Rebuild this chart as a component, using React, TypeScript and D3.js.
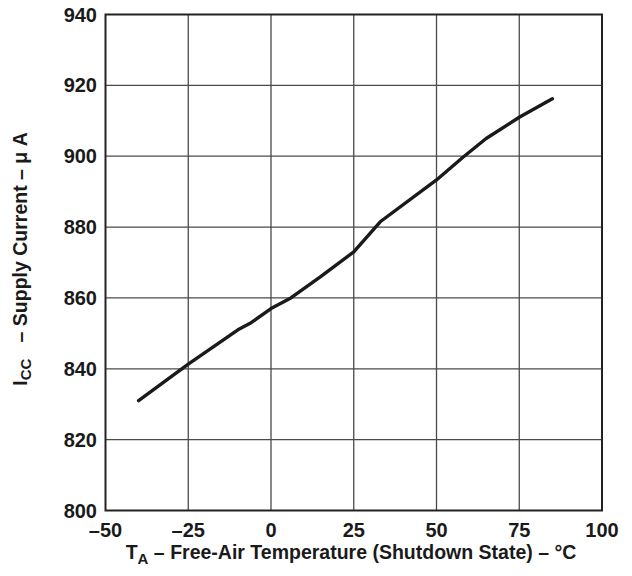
import React from "react";
import * as d3 from "d3";

const tempC = [-40, -25, -10, -6, 0, 6, 15, 25, 33, 50, 58, 65, 75, 85];
const supplyUA = [831, 841.3, 851, 853, 857, 860, 866, 873, 881.5, 893.3, 899.7, 905, 911, 916.2];
const xTicks = [-50, -25, 0, 25, 50, 75, 100];
const yTicks = [800, 820, 840, 860, 880, 900, 920, 940];

const W = 632, H = 576;
const L = 105.5, R = 602, T = 14.5, B = 510.5;

const fmt = (v: number) => (v < 0 ? "\u2013" + Math.abs(v) : String(v));

export default function App() {
  const x = d3.scaleLinear().domain([-50, 100]).range([L, R]);
  const y = d3.scaleLinear().domain([800, 940]).range([B, T]);
  const line = d3
    .line<number>()
    .x((_, i) => x(tempC[i]))
    .y((d) => y(d))
    .curve(d3.curveLinear);
  const font = "'Liberation Sans', Arial, Helvetica, sans-serif";
  return (
    <svg width={W} height={H} style={{ position: "absolute", left: 0, top: 0, background: "#fff" }}>
      <g fontFamily={font} fontWeight="bold" fill="#1a1a1a">
        {xTicks.slice(1, -1).map((t) => (
          <line key={"gx" + t} x1={x(t)} x2={x(t)} y1={T} y2={B} stroke="#4a4a4a" strokeWidth={1.3} />
        ))}
        {yTicks.slice(1, -1).map((t) => (
          <line key={"gy" + t} x1={L} x2={R} y1={y(t)} y2={y(t)} stroke="#4a4a4a" strokeWidth={1.3} />
        ))}
        <rect x={L} y={T} width={R - L} height={B - T} fill="none" stroke="#222" strokeWidth={2} />
        <path d={line(supplyUA) || ""} fill="none" stroke="#1a1a1a" strokeWidth={3.4} strokeLinecap="round" strokeLinejoin="round" />
        {yTicks.map((t) => (
          <text key={"ty" + t} x={97} y={y(t)} dy="0.35em" textAnchor="end" fontSize={20}>
            {t}
          </text>
        ))}
        {xTicks.map((t) => (
          <text key={"tx" + t} x={x(t)} y={530} dy="0.35em" textAnchor="middle" fontSize={20}>
            {fmt(t)}
          </text>
        ))}
        <text x={351} y={559} textAnchor="middle" fontSize={19.5} style={{ whiteSpace: "pre" }}>
          T<tspan fontSize={15} dy={5}>A</tspan>
          <tspan dy={-5}>{" \u2013 Free-Air Temperature (Shutdown State) \u2013 \u00B0C"}</tspan>
        </text>
        <text
          transform={`translate(27,259) rotate(-90)`}
          textAnchor="middle"
          fontSize={19.5}
          style={{ whiteSpace: "pre" }}
        >
          I<tspan fontSize={15} dy={4}>CC</tspan>
          <tspan dy={-4}>{"   \u2013 Supply Current \u2013 \u03BC A"}</tspan>
        </text>
      </g>
    </svg>
  );
}
